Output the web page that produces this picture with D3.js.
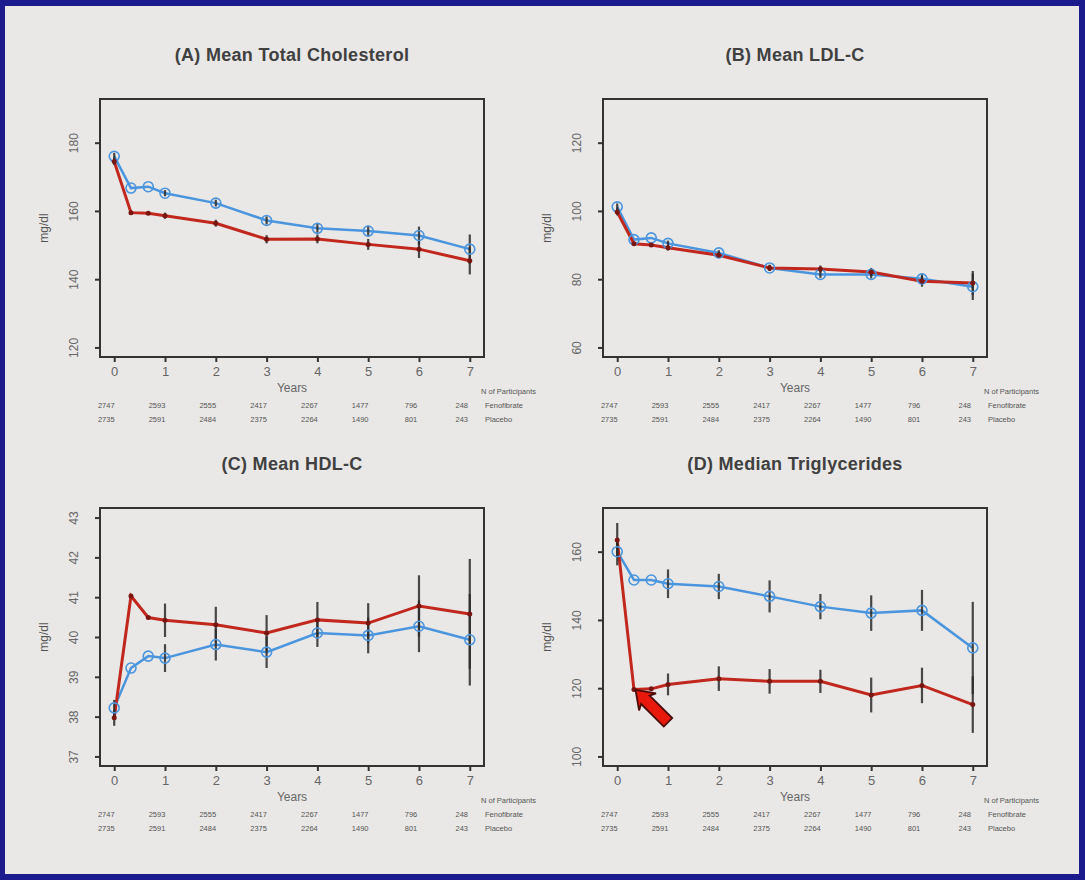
<!DOCTYPE html>
<html>
<head>
<meta charset="utf-8">
<script src="https://cdn.jsdelivr.net/npm/d3@7"></script>
<style>
body{margin:0;background:#1b1b8e;}
svg{display:block;}
</style>
</head>
<body>
<svg id="main" width="1085" height="880"></svg>
<script>
// visit times in years (baseline, 4 months, 8 months, then yearly)
let years = [0, 0.33, 0.67, 1, 2, 3, 4, 5, 6, 7];
let tickYears = [0, 1, 2, 3, 4, 5, 6, 7];

// participants at each yearly visit
let nFeno = [2747, 2593, 2555, 2417, 2267, 1477, 796, 248];
let nPlac = [2735, 2591, 2484, 2375, 2264, 1490, 801, 243];

let titles = ['(A) Mean Total Cholesterol', '(B) Mean LDL-C', '(C) Mean HDL-C', '(D) Median Triglycerides'];

// (A) total cholesterol, mg/dl
let fenoA = [174.5, 159.5, 159.3, 158.6, 156.4, 151.7, 151.8, 150.2, 148.8, 145.4];
let placA = [176.0, 166.7, 167.1, 165.2, 162.3, 157.2, 154.9, 154.1, 152.8, 148.8];
let fenoErrA = [1, 0, 0, 0.9, 1, 1.2, 1.3, 1.6, 2.6, 4];
let placErrA = [1, 0, 0, 0.9, 1, 1.2, 1.3, 1.6, 2.6, 4.3];
let ticksA = [120, 140, 160, 180];
let limA = [120, 190];

// (B) LDL-C
let fenoB = [99.7, 90.4, 90.0, 89.2, 87.0, 83.3, 83.0, 82.1, 79.4, 78.9];
let placB = [101.2, 91.6, 92.1, 90.5, 87.7, 83.3, 81.4, 81.4, 80.1, 77.8];
let fenoErrB = [1, 0, 0, 0.8, 0.8, 0.9, 1, 1.2, 1.6, 3.5];
let placErrB = [1, 0, 0, 0.8, 0.8, 0.9, 1, 1.2, 1.6, 3.9];
let ticksB = [60, 80, 100, 120];
let limB = [60, 130];

// (C) HDL-C
let fenoC = [37.97, 41.03, 40.49, 40.42, 40.31, 40.1, 40.43, 40.35, 40.78, 40.58];
let placC = [38.22, 39.22, 39.52, 39.47, 39.81, 39.62, 40.1, 40.04, 40.27, 39.93];
let fenoErrC = [0.2, 0, 0, 0.42, 0.45, 0.45, 0.45, 0.5, 0.77, 1.38];
let placErrC = [0.2, 0, 0, 0.35, 0.4, 0.4, 0.35, 0.45, 0.65, 1.15];
let ticksC = [37, 38, 39, 40, 41, 42, 43];
let limC = [37, 43];

// (D) triglycerides
let fenoD = [163.4, 119.6, 119.8, 121.1, 122.8, 122.0, 122.0, 118.0, 120.8, 115.2];
let placD = [160.0, 151.7, 151.7, 150.6, 149.8, 146.9, 143.9, 142.0, 142.8, 131.8];
let fenoErrD = [5, 0, 0, 3.2, 3.6, 3.6, 3.4, 5.1, 5.2, 8.3];
let placErrD = [4, 0, 0, 4.2, 3.7, 4.7, 3.7, 5.2, 6, 13.5];
let ticksD = [100, 120, 140, 160];
let limD = [100, 170];

// presenter's pointer in panel D: tail -> tip, in data units
let pointer = [[1.0, 110], [0.36, 119.5]];

let blue = '#4a95de';
let red = '#c1271d';

let W = 384, H = 258;
let panels = [
    {title: titles[0], left: 100, top: 99, feno: fenoA, plac: placA, fe: fenoErrA, pe: placErrA, ticks: ticksA, lim: limA},
    {title: titles[1], left: 603, top: 99, feno: fenoB, plac: placB, fe: fenoErrB, pe: placErrB, ticks: ticksB, lim: limB},
    {title: titles[2], left: 100, top: 508, feno: fenoC, plac: placC, fe: fenoErrC, pe: placErrC, ticks: ticksC, lim: limC},
    {title: titles[3], left: 603, top: 508, feno: fenoD, plac: placD, fe: fenoErrD, pe: placErrD, ticks: ticksD, lim: limD, pointer: pointer}
];

let svg = d3.select('#main');
svg.append('rect')
    .attr('x', 5).attr('y', 6)
    .attr('width', 1074).attr('height', 868)
    .attr('fill', '#e9e8e6');

function drawPanel(p){
    let g = svg.append('g').style('font-family', '"Liberation Sans", Arial, sans-serif');
    let pad = (p.lim[1] - p.lim[0]) * 0.04;
    let x = d3.scaleLinear().domain([-0.28, 7.28]).range([p.left, p.left + W]);
    let y = d3.scaleLinear().domain([p.lim[0] - pad, p.lim[1] + pad]).range([p.top + H, p.top]);

    // title
    g.append('text')
        .attr('x', p.left + W / 2).attr('y', p.top - 38)
        .attr('text-anchor', 'middle')
        .attr('font-size', 18).attr('font-weight', 'bold')
        .attr('letter-spacing', 0.3)
        .attr('fill', '#404040')
        .text(p.title);

    // y axis
    let ya = g.append('g')
        .attr('transform', `translate(${p.left},0)`)
        .call(d3.axisLeft(y).tickValues(p.ticks).tickSize(5).tickFormat(d3.format('d')));
    ya.select('.domain').remove();
    ya.selectAll('line').attr('stroke', '#333').attr('stroke-width', 2);
    ya.selectAll('text')
        .attr('transform', 'rotate(-90)')
        .attr('x', 0).attr('y', -22).attr('dy', 0)
        .attr('text-anchor', 'middle')
        .attr('font-size', 12).attr('fill', '#666')
        .style('font-family', '"Liberation Sans", Arial, sans-serif');

    // x axis
    let xa = g.append('g')
        .attr('transform', `translate(0,${p.top + H})`)
        .call(d3.axisBottom(x).tickValues(tickYears).tickSize(5).tickPadding(5).tickFormat(d3.format('d')));
    xa.select('.domain').remove();
    xa.selectAll('line').attr('stroke', '#333').attr('stroke-width', 2);
    xa.selectAll('text')
        .attr('font-size', 13).attr('fill', '#666')
        .style('font-family', '"Liberation Sans", Arial, sans-serif');

    // box
    g.append('rect')
        .attr('x', p.left).attr('y', p.top)
        .attr('width', W).attr('height', H)
        .attr('fill', 'none')
        .attr('stroke', '#333').attr('stroke-width', 2);

    g.append('text')
        .attr('transform', `translate(${p.left - 52},${p.top + H / 2}) rotate(-90)`)
        .attr('text-anchor', 'middle')
        .attr('font-size', 12).attr('fill', '#555')
        .text('mg/dl');

    g.append('text')
        .attr('x', p.left + W / 2).attr('y', p.top + H + 35)
        .attr('text-anchor', 'middle')
        .attr('font-size', 12).attr('fill', '#666')
        .text('Years');

    // participants table
    g.append('text')
        .attr('x', p.left + 436).attr('y', p.top + H + 37)
        .attr('text-anchor', 'end')
        .attr('font-size', 7.5).attr('fill', '#555')
        .text('N of Participants');
    [[nFeno, 'Fenofibrate', 51], [nPlac, 'Placebo', 65]].forEach(row=>{
        g.selectAll(null)
            .data(row[0])
            .enter().append('text')
            .attr('x', (d, i)=>x(tickYears[i]) - 8)
            .attr('y', p.top + H + row[2])
            .attr('text-anchor', 'middle')
            .attr('font-size', 7.5).attr('fill', '#555')
            .text(d=>d);
        g.append('text')
            .attr('x', p.left + 385).attr('y', p.top + H + row[2])
            .attr('font-size', 7.5).attr('fill', '#555')
            .text(row[1]);
    });

    let line = d3.line().x((d, i)=>x(years[i])).y(d=>y(d));
    g.append('path').datum(p.plac)
        .attr('d', line)
        .attr('fill', 'none').attr('stroke', blue).attr('stroke-width', 2.5);
    g.append('path').datum(p.feno)
        .attr('d', line)
        .attr('fill', 'none').attr('stroke', red).attr('stroke-width', 3);

    // error bars (yearly visits)
    [[p.plac, p.pe], [p.feno, p.fe]].forEach(s=>{
        g.selectAll(null)
            .data(s[0].map((v, i)=>({t: years[i], v: v, e: s[1][i]})).filter(d=>d.e > 0))
            .enter().append('line')
            .attr('x1', d=>x(d.t)).attr('x2', d=>x(d.t))
            .attr('y1', d=>y(d.v - d.e)).attr('y2', d=>y(d.v + d.e))
            .attr('stroke', '#2b2b2b').attr('stroke-width', 2.2).attr('opacity', 0.85);
    });

    g.selectAll(null)
        .data(p.plac)
        .enter().append('circle')
        .attr('cx', (d, i)=>x(years[i])).attr('cy', d=>y(d))
        .attr('r', 5)
        .attr('fill', 'none').attr('stroke', blue).attr('stroke-width', 1.6);
    g.selectAll(null)
        .data(p.feno)
        .enter().append('circle')
        .attr('cx', (d, i)=>x(years[i])).attr('cy', d=>y(d))
        .attr('r', 2.5)
        .attr('fill', '#7a1510');

    if(p.pointer){
        let a = [x(p.pointer[0][0]), y(p.pointer[0][1])];
        let b = [x(p.pointer[1][0]), y(p.pointer[1][1])];
        let ang = Math.atan2(b[1] - a[1], b[0] - a[0]);
        let len = Math.hypot(b[0] - a[0], b[1] - a[1]);
        let shape = [[0, 0], [-17, 12], [-14, 6], [-len, 6], [-len, -6], [-14, -6], [-17, -12]];
        g.append('polygon')
            .attr('points', shape.map(q=>q.join(',')).join(' '))
            .attr('transform', `translate(${b[0]},${b[1]}) rotate(${ang * 180 / Math.PI})`)
            .attr('fill', '#e8190c').attr('stroke', '#4a0c08').attr('stroke-width', 1.8);
    }
}

panels.forEach(drawPanel);
</script>
</body>
</html>
